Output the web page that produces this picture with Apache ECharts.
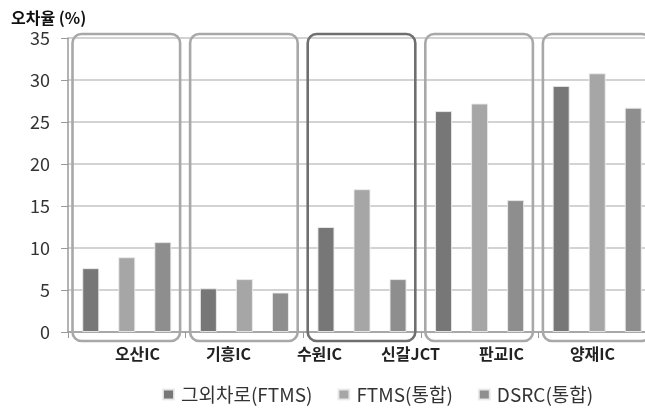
<!DOCTYPE html>
<html>
<head>
<meta charset="utf-8">
<script src="https://cdn.jsdelivr.net/npm/echarts@6/dist/echarts.min.js"></script>
<style>
  html, body { margin: 0; padding: 0; background: #fff; }
  #chart { width: 645px; height: 412px; }
</style>
</head>
<body>
<div id="chart"></div>
<script>
// Interchange groups (one box per group)
const groups = ['G1', 'G2', 'G3', 'G4', 'G5'];
// Interchange names shown under the boxes
const placeLabels = ['오산IC', '기흥IC', '수원IC', '신갈JCT', '판교IC', '양재IC'];
// Series names
const seriesNames = ['그외차로(FTMS)', 'FTMS(통합)', 'DSRC(통합)'];
// Error rate (%) per group
const otherLanes = [7.6, 5.2, 12.5, 26.3, 29.3];
const ftmsMerged = [8.9, 6.3, 17.0, 27.2, 30.8];
const dsrcMerged = [10.7, 4.7, 6.3, 15.7, 26.7];
// Highlighted group (darker box)
const highlighted = [false, false, true, false, false];
// Y axis
const yMax = 35;
const yStep = 5;

const seriesColors = ['#777777', '#a6a6a6', '#8e8e8e'];
const font = '"Noto Sans CJK KR", "Noto Sans", sans-serif';

const chart = echarts.init(document.getElementById('chart'), null, { renderer: 'canvas' });

function barSeries(name, data, color) {
  return {
    name: name,
    type: 'bar',
    data: data,
    barWidth: 17,
    barGap: '112%',
    itemStyle: { color: color, borderColor: 'rgba(235,235,235,0.9)', borderWidth: 1 },
    z: 3
  };
}

chart.setOption({
  animation: false,
  backgroundColor: '#ffffff',
  grid: [
    { left: 68, width: 588, top: 38, height: 294, outerBoundsMode: 'none', containLabel: false },
    { left: 92, width: 546, top: 38, height: 294, outerBoundsMode: 'none', containLabel: false }
  ],
  legend: {
    left: 157,
    bottom: 3,
    icon: 'rect',
    itemWidth: 11,
    itemHeight: 10,
    itemGap: 25,
    textStyle: { fontFamily: font, fontSize: 19, color: '#333', padding: [0, 0, 0, 2] },
    data: seriesNames
  },
  xAxis: [
    {
      type: 'category',
      gridIndex: 0,
      data: groups,
      axisLine: { lineStyle: { color: '#9a9a9a', width: 1.5 } },
      axisTick: { show: true, length: 6, alignWithLabel: false, lineStyle: { color: '#9a9a9a' } },
      axisLabel: { show: false }
    },
    {
      type: 'category',
      gridIndex: 1,
      data: placeLabels,
      axisLine: { show: false },
      axisTick: { show: false },
      axisLabel: {
        margin: 14,
        fontFamily: font,
        fontSize: 16,
        fontWeight: 'bold',
        color: '#222'
      }
    }
  ],
  yAxis: [
    {
      type: 'value',
      gridIndex: 0,
      min: 0,
      max: yMax,
      interval: yStep,
      name: '오차율 (%)',
      nameLocation: 'end',
      nameGap: 12,
      nameTextStyle: { fontFamily: font, fontSize: 16, fontWeight: 'bold', color: '#111', align: 'left', padding: [0, 0, 0, -57] },
      axisLine: { show: true, lineStyle: { color: '#9a9a9a', width: 1.5 } },
      axisTick: { show: true, inside: false, length: 7, lineStyle: { color: '#9a9a9a' } },
      axisLabel: { fontFamily: font, fontSize: 18, color: '#333', margin: 18 },
      splitLine: { lineStyle: { color: '#c4c4c4', width: 1.5 } }
    },
    { type: 'value', gridIndex: 1, min: 0, max: yMax, show: false }
  ],
  series: [
    {
      type: 'custom',
      name: 'boxes',
      xAxisIndex: 0,
      yAxisIndex: 0,
      data: groups.map((g, i) => [i, highlighted[i] ? 1 : 0]),
      silent: true,
      z: 4,
      renderItem: function (params, api) {
        const idx = api.value(0);
        const top = api.coord([idx, yMax]);
        const bottom = api.coord([idx, 0]);
        const band = api.size([1, 0])[0];
        const x = top[0] - band / 2 + 4.5;
        const w = band - 10;
        const y = top[1] - 4;
        const h = bottom[1] + 9 - y;
        return {
          type: 'rect',
          shape: { x: x, y: y, width: w, height: h, r: 9 },
          style: {
            fill: null,
            stroke: api.value(1) ? '#6f6f6f' : '#a8a8a8',
            lineWidth: 2.6
          }
        };
      }
    },
    barSeries(seriesNames[0], otherLanes, seriesColors[0]),
    barSeries(seriesNames[1], ftmsMerged, seriesColors[1]),
    barSeries(seriesNames[2], dsrcMerged, seriesColors[2])
  ]
});
</script>
</body>
</html>
